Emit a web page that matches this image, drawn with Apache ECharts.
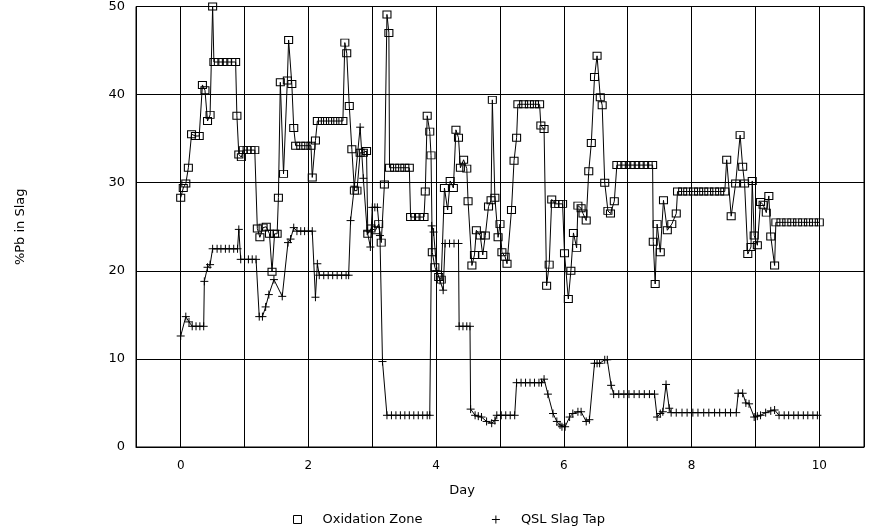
<!DOCTYPE html>
<html>
<head>
<meta charset="utf-8">
<script src="https://cdn.jsdelivr.net/npm/echarts@6/dist/echarts.min.js"></script>
<style>html,body{margin:0;padding:0;background:#fff}#c{width:869px;height:531px}</style>
</head>
<body>
<div id="c"></div>
<script>
const oxDay = [0.00,0.04,0.08,0.12,0.17,0.23,0.29,0.34,0.38,0.42,0.46,0.50,0.52,0.59,0.66,0.73,0.80,0.86,0.88,0.91,0.95,0.98,1.04,1.10,1.16,
1.20,1.24,1.29,1.34,1.39,1.43,1.47,1.51,1.53,1.56,1.61,1.67,1.69,1.74,1.77,1.80,1.88,1.96,2.04,2.06,2.11,2.14,2.22,2.30,2.38,2.46,2.54,
2.57,2.60,2.64,2.68,2.72,2.76,2.81,2.86,2.91,2.93,2.98,3.05,3.10,3.14,3.19,3.23,3.26,3.27,3.35,3.43,3.51,3.58,3.60,3.67,3.74,3.81,
3.83,3.86,3.90,3.92,3.94,3.98,4.04,4.08,4.13,4.18,4.22,4.27,4.31,4.35,4.38,4.43,4.48,4.50,4.56,4.60,4.63,4.69,4.73,4.77,4.82,4.86,
4.88,4.92,4.97,5.00,5.03,5.08,5.11,5.18,5.22,5.26,5.28,5.37,5.46,5.54,5.62,5.64,5.69,5.73,5.77,5.81,5.86,5.92,5.98,6.01,6.07,6.11,
6.15,6.20,6.22,6.27,6.30,6.35,6.39,6.43,6.48,6.52,6.57,6.60,6.64,6.69,6.73,6.79,6.83,6.90,6.97,7.04,7.11,7.18,7.25,7.32,7.39,
7.40,7.43,7.46,7.51,7.56,7.62,7.69,7.76,7.78,7.86,7.94,8.03,8.11,8.19,8.27,8.36,8.44,8.52,8.55,8.62,8.69,8.76,8.80,8.83,8.88,8.93,
8.95,8.98,9.03,9.08,9.12,9.17,9.21,9.24,9.30,9.32,9.40,9.49,9.57,9.66,9.74,9.83,9.91,10.00];
const oxPb = [28.3,29.4,29.9,31.7,35.5,35.3,35.3,41.1,40.5,37.0,37.7,50.0,43.7,43.7,43.7,43.7,43.7,43.7,37.6,33.2,32.9,33.7,33.7,33.7,33.7,
24.8,23.8,24.9,25.0,24.2,19.9,24.2,24.2,28.3,41.4,31.0,41.6,46.2,41.2,36.2,34.2,34.2,34.2,34.2,30.6,34.8,37.0,37.0,37.0,37.0,37.0,37.0,
45.9,44.7,38.7,33.8,29.1,29.1,33.4,33.4,33.6,24.2,24.8,24.6,25.3,23.2,29.8,49.1,47.0,31.7,31.7,31.7,31.7,31.7,26.1,26.1,26.1,26.1,
29.0,37.6,35.8,33.1,22.1,20.4,19.3,19.0,29.4,26.9,30.2,29.4,36.0,35.1,31.7,32.6,31.6,27.9,20.6,21.8,24.6,24.0,21.8,24.0,27.3,28.0,
39.4,28.3,23.8,25.3,22.1,21.6,20.8,26.9,32.5,35.1,38.9,38.9,38.9,38.9,38.9,36.5,36.1,18.3,20.7,28.1,27.6,27.6,27.6,22.0,16.8,20.0,
24.3,22.6,27.4,27.1,26.5,25.7,31.3,34.5,42.0,44.4,39.7,38.8,30.0,26.8,26.5,27.9,32.0,32.0,32.0,32.0,32.0,32.0,32.0,32.0,32.0,
23.3,18.5,25.3,22.1,28.0,24.6,25.3,26.5,29.0,29.0,29.0,29.0,29.0,29.0,29.0,29.0,29.0,29.0,32.6,26.2,29.9,35.4,31.8,29.9,21.9,22.7,
30.2,24.0,22.9,27.8,27.5,26.6,28.5,23.9,20.6,25.5,25.5,25.5,25.5,25.5,25.5,25.5,25.5,25.5];

const tapDay = [0.00,0.08,0.13,0.18,0.24,0.30,0.36,0.37,0.42,0.46,0.50,0.57,0.63,0.70,0.76,0.83,0.89,0.91,0.94,1.00,1.06,1.12,1.18,
1.23,1.28,1.33,1.38,1.46,1.59,1.68,1.72,1.77,1.82,1.88,1.94,2.00,2.06,2.11,2.14,2.17,2.24,2.31,2.38,2.45,2.52,2.59,2.63,
2.66,2.72,2.81,2.86,2.92,2.97,3.00,3.04,3.08,3.12,3.16,3.23,3.30,3.37,3.44,3.51,3.58,3.65,3.72,3.79,3.86,3.90,
3.93,3.96,4.01,4.06,4.11,4.14,4.21,4.28,4.35,4.36,4.42,4.48,4.53,4.54,4.61,4.66,4.71,4.79,4.87,4.92,4.95,5.02,5.09,5.16,5.23,
5.26,5.33,5.40,5.47,5.54,5.61,5.65,5.69,5.75,5.83,5.89,5.94,5.97,6.02,6.09,6.14,6.22,6.27,6.35,6.40,6.48,6.52,6.56,6.64,6.68,6.74,
6.78,6.86,6.94,7.02,7.10,7.18,7.26,7.34,7.42,7.46,7.51,7.55,7.60,7.65,7.68,7.76,7.85,7.93,8.02,8.10,8.19,8.27,8.36,8.44,8.53,8.61,8.70,
8.73,8.80,8.85,8.90,8.98,9.03,9.08,9.16,9.24,9.30,9.37,9.45,9.52,9.60,9.67,9.75,9.82,9.90,9.97];
const tapPb = [12.6,14.8,14.2,13.7,13.7,13.7,13.7,18.8,20.4,20.7,22.5,22.5,22.5,22.5,22.5,22.5,22.5,24.7,21.3,21.3,21.3,21.3,21.3,
14.8,14.8,15.9,17.3,19.0,17.1,23.2,23.6,24.9,24.5,24.5,24.5,24.5,24.5,17.0,20.8,19.5,19.5,19.5,19.5,19.5,19.5,19.5,19.5,
25.7,29.6,36.3,30.5,24.5,22.7,27.2,27.2,27.2,24.0,9.7,3.6,3.6,3.6,3.6,3.6,3.6,3.6,3.6,3.6,3.6,3.6,
25.1,24.4,20.0,18.9,17.8,23.1,23.1,23.1,23.1,13.7,13.7,13.7,13.7,4.3,3.6,3.5,3.4,2.9,2.7,3.0,3.6,3.6,3.6,3.6,3.6,
7.3,7.3,7.3,7.3,7.3,7.3,7.3,7.7,6.0,3.8,2.9,2.5,2.3,2.3,3.4,3.8,4.0,4.0,2.9,3.1,9.5,9.5,9.5,9.9,9.9,7.0,
6.0,6.0,6.0,6.0,6.0,6.0,6.0,6.0,6.0,3.4,3.8,4.0,7.1,4.4,3.9,3.9,3.9,3.9,3.9,3.9,3.9,3.9,3.9,3.9,3.9,3.9,3.9,
6.1,6.1,5.0,4.9,3.4,3.5,3.6,3.9,4.1,4.2,3.6,3.6,3.6,3.6,3.6,3.6,3.6,3.6,3.6];

const yTicks = [0,10,20,30,40,50];
const xTickLabels = [0,2,4,6,8,10];

const plus = 'path://M0,5L10,5M5,0L5,10';
const font = 'DejaVu Sans';
const chart = echarts.init(document.getElementById('c'), null, {renderer:'canvas'});
chart.setOption({
  backgroundColor:'#fff',
  animation:false,
  grid:{left:136,right:5,top:6,bottom:84,show:true,borderColor:'#000',borderWidth:1,backgroundColor:'transparent'},
  xAxis:{type:'value',min:-0.7,max:10.7,minInterval:1,maxInterval:1,splitNumber:11,
    name:'Day',nameLocation:'middle',nameGap:37,
    nameTextStyle:{fontFamily:font,fontSize:13,color:'#000',padding:[0,76,0,0]},
    axisLine:{show:true,lineStyle:{color:'#000',width:1}},axisTick:{show:false},
    splitLine:{show:true,lineStyle:{color:'#000',width:1}},
    axisLabel:{margin:13,fontFamily:font,fontSize:12,color:'#000',showMinLabel:false,showMaxLabel:false,
      formatter:function(v){const r=Math.round(v);return (Math.abs(v-r)<1e-6 && xTickLabels.indexOf(r)>=0)?String(r):'';}}},
  yAxis:{type:'value',min:yTicks[0],max:yTicks[yTicks.length-1],interval:10,
    name:'%Pb in Slag',nameLocation:'middle',nameGap:109,nameRotate:90,
    nameTextStyle:{fontFamily:font,fontSize:13,color:'#000'},
    axisLine:{show:true,lineStyle:{color:'#000',width:1}},axisTick:{show:false},
    splitLine:{show:true,lineStyle:{color:'#000',width:1}},
    axisLabel:{margin:11,fontFamily:font,fontSize:13,color:'#000'}},
  legend:{left:288,top:508,itemWidth:8,itemHeight:8,itemGap:69,
    textStyle:{fontFamily:font,fontSize:13,color:'#000',padding:[0,0,0,16]},
    itemStyle:{color:'transparent',borderColor:'#000',borderWidth:1},
    data:[{name:'Oxidation Zone',icon:'rect'},{name:'QSL Slag Tap',icon:plus}]},
  series:[
    {name:'Oxidation Zone',type:'line',data:oxDay.map((d,i)=>[d,oxPb[i]]),
     symbol:'rect',symbolSize:[8,7],showAllSymbol:true,
     lineStyle:{color:'#000',width:1},itemStyle:{color:'transparent',borderColor:'#000',borderWidth:1}},
    {name:'QSL Slag Tap',type:'line',data:tapDay.map((d,i)=>[d,tapPb[i]]),
     symbol:plus,symbolSize:8,showAllSymbol:true,
     lineStyle:{color:'#000',width:1},itemStyle:{color:'transparent',borderColor:'#000',borderWidth:1}}
  ]
});
</script>
</body>
</html>
